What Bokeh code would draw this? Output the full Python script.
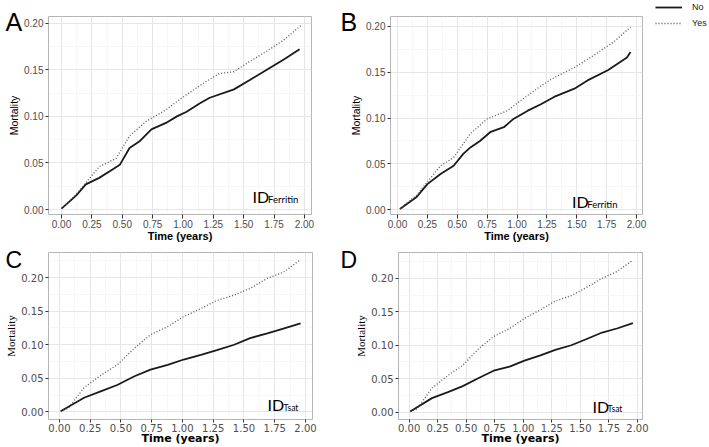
from bokeh.plotting import figure
from bokeh.layouts import column, row
from bokeh.models import (FixedTicker, NumeralTickFormatter, Label, Legend, LegendItem,
                          Range1d, GridBox)
from bokeh.embed import file_html
from bokeh.resources import INLINE

# ---------------- data ----------------
x_ticks = [0.0, 0.25, 0.5, 0.75, 1.0, 1.25, 1.5, 1.75, 2.0]
x_minor = [0.125, 0.375, 0.625, 0.875, 1.125, 1.375, 1.625, 1.875]
y_ticks_top = [0.0, 0.05, 0.10, 0.15, 0.20]
y_minor_top = [0.025, 0.075, 0.125, 0.175]
y_ticks_bot = [0.0, 0.05, 0.10, 0.15, 0.20]
y_minor_bot = [0.025, 0.075, 0.125, 0.175, 0.225]

legend_labels = ["No", "Yes"]
panel_letters = ["A", "B", "C", "D"]
subscripts = ["Ferritin", "Ferritin", "Tsat", "Tsat"]

a_t_no = [0.0, 0.12, 0.20, 0.31, 0.42, 0.48, 0.56, 0.64, 0.74, 0.86, 0.95, 1.03, 1.14, 1.22, 1.42, 1.55, 1.69, 1.83, 1.96]
a_no = [0.001, 0.015, 0.027, 0.034, 0.043, 0.048, 0.066, 0.073, 0.086, 0.093, 0.100, 0.105, 0.114, 0.120, 0.129, 0.139, 0.150, 0.161, 0.172]
a_t_yes = [0.0, 0.12, 0.31, 0.45, 0.56, 0.70, 0.86, 0.97, 1.19, 1.30, 1.42, 1.55, 1.69, 1.83, 1.97]
a_yes = [0.001, 0.016, 0.046, 0.055, 0.079, 0.095, 0.107, 0.118, 0.1375, 0.146, 0.148, 0.159, 0.170, 0.182, 0.1975]

b_t_no = [0.02, 0.16, 0.25, 0.36, 0.47, 0.55, 0.61, 0.69, 0.78, 0.89, 0.97, 1.09, 1.20, 1.31, 1.48, 1.59, 1.76, 1.92, 1.95]
b_no = [0.001, 0.014, 0.028, 0.039, 0.048, 0.061, 0.068, 0.075, 0.085, 0.090, 0.099, 0.108, 0.115, 0.123, 0.132, 0.141, 0.152, 0.166, 0.172]
b_t_yes = [0.02, 0.16, 0.36, 0.47, 0.61, 0.75, 0.92, 1.03, 1.20, 1.31, 1.48, 1.64, 1.81, 1.95]
b_yes = [0.001, 0.016, 0.048, 0.057, 0.083, 0.099, 0.108, 0.119, 0.135, 0.144, 0.155, 0.168, 0.183, 0.199]

c_t_no = [0.01, 0.20, 0.34, 0.47, 0.61, 0.74, 0.88, 1.01, 1.15, 1.28, 1.42, 1.55, 1.69, 1.82, 1.96]
c_no = [0.001, 0.021, 0.031, 0.040, 0.053, 0.063, 0.070, 0.078, 0.085, 0.092, 0.100, 0.110, 0.117, 0.124, 0.132]
c_t_yes = [0.01, 0.07, 0.20, 0.34, 0.47, 0.61, 0.74, 0.88, 1.01, 1.15, 1.28, 1.42, 1.55, 1.69, 1.82, 1.96]
c_yes = [0.001, 0.005, 0.036, 0.055, 0.070, 0.095, 0.115, 0.127, 0.142, 0.154, 0.166, 0.174, 0.184, 0.199, 0.208, 0.227]

d_t_no = [0.01, 0.20, 0.34, 0.47, 0.61, 0.74, 0.88, 1.01, 1.15, 1.28, 1.42, 1.55, 1.69, 1.82, 1.96]
d_no = [0.001, 0.021, 0.030, 0.039, 0.051, 0.062, 0.068, 0.077, 0.085, 0.093, 0.100, 0.109, 0.119, 0.125, 0.133]
d_t_yes = [0.01, 0.07, 0.20, 0.34, 0.47, 0.61, 0.74, 0.88, 1.01, 1.15, 1.28, 1.42, 1.55, 1.69, 1.82, 1.96]
d_yes = [0.001, 0.005, 0.036, 0.055, 0.070, 0.095, 0.113, 0.125, 0.140, 0.153, 0.166, 0.174, 0.186, 0.200, 0.210, 0.227]

W, H = 709, 447


# ---------------- styling helpers ----------------
def make_panel(width, height, borders, xr, yr, yt, ym, tick_font, title_font, ytitle_font, wide,
               xtick_out, xstand, xtitle_stand):
    left, right, top, bottom = borders
    p = figure(width=width, height=height, output_backend="svg", toolbar_location=None,
               x_range=Range1d(*xr), y_range=Range1d(*yr),
               min_border_left=left, min_border_right=right,
               min_border_top=top, min_border_bottom=bottom)
    p.background_fill_color = "white"
    p.border_fill_color = "white"
    p.outline_line_color = "#b5b5b5"
    p.outline_line_width = 1
    p.xaxis.ticker = FixedTicker(ticks=x_ticks, minor_ticks=x_minor)
    p.yaxis.ticker = FixedTicker(ticks=yt, minor_ticks=ym)
    for ax in (p.xaxis[0], p.yaxis[0]):
        ax.formatter = NumeralTickFormatter(format="0.00")
        ax.axis_line_color = None
        ax.major_tick_line_color = "#333333"
        ax.major_tick_out = 3
        ax.major_tick_in = 0
        ax.minor_tick_out = 0
        ax.minor_tick_in = 0
        ax.major_label_text_font = tick_font
        ax.major_label_text_font_size = "10px"
        ax.major_label_text_color = "#4d4d4d"
        ax.axis_label_text_color = "black"
    p.xaxis.major_tick_out = xtick_out
    p.xaxis.major_label_standoff = xstand
    p.yaxis.major_label_standoff = 2
    p.xaxis.axis_label = "Time (years)"
    p.xaxis.axis_label_text_font = title_font
    p.xaxis.axis_label_text_font_style = "bold"
    p.xaxis.axis_label_text_font_size = "11px"
    p.xaxis.axis_label_standoff = xtitle_stand
    p.yaxis.axis_label = "Mortality"
    p.yaxis.axis_label_text_font = ytitle_font
    p.yaxis.axis_label_text_font_style = "normal"
    p.yaxis.axis_label_text_font_size = "11px" if wide else "10.5px"
    p.yaxis.axis_label_standoff = 1
    p.xgrid.grid_line_color = "#e6e6e6"
    p.ygrid.grid_line_color = "#e6e6e6"
    p.xgrid.minor_grid_line_color = "#f1f1f1"
    p.ygrid.minor_grid_line_color = "#f1f1f1"
    p.xgrid.minor_grid_line_width = 0.6
    p.ygrid.minor_grid_line_width = 0.6
    return p


def add_curves(p, t_no, no, t_yes, yes):
    r_no = p.line(t_no, no, line_color="#1a1a1a", line_width=1.8)
    r_yes = p.line(t_yes, yes, line_color="#555555", line_width=1.3, line_dash="1 2")
    return r_no, r_yes


def add_id(p, sub, ix, iy, sx, sy, isize, ssize):
    p.add_layout(Label(x=ix, y=iy, text="ID", text_font="Lato", text_font_size=isize,
                       text_color="black", text_baseline="alphabetic", text_align="left"))
    p.add_layout(Label(x=sx, y=sy, text=sub, text_font="Lato", text_font_size=ssize,
                       text_color="black", text_baseline="alphabetic", text_align="left"))


# ---------------- panels ----------------
pa = make_panel(345, 247, (48, 34, 15, 33), (-0.107, 2.058), (-0.0053, 0.2072),
                y_ticks_top, y_minor_top, "Liberation Sans", "Liberation Sans", "Liberation Sans", False,
                4, 1, -1)
add_curves(pa, a_t_no, a_no, a_t_yes, a_yes)
add_id(pa, subscripts[0], 1.572, 0.0144, 1.70, 0.0111, "16px", "9.5px")

pb = make_panel(364, 247, (45, 67, 16, 33), (-0.0586, 2.05), (-0.0051, 0.2106),
                y_ticks_top, y_minor_top, "Liberation Sans", "Liberation Sans", "Liberation Sans", False,
                4, 1, -1)
add_curves(pb, b_t_no, b_no, b_t_yes, b_yes)
add_id(pb, subscripts[1], 1.46, 0.0086, 1.587, 0.0057, "16px", "9.5px")

pc = make_panel(345, 200, (48, 33, 5, 27), (-0.089, 2.057), (-0.0114, 0.2375),
                y_ticks_bot, y_minor_bot, "DejaVu Sans", "DejaVu Sans", "Liberation Sans Narrow", True,
                3, 1, -3)
add_curves(pc, c_t_no, c_no, c_t_yes, c_yes)
add_id(pc, subscripts[2], 1.691, 0.0108, 1.821, 0.0064, "16px", "8.5px")

pd_ = make_panel(364, 200, (53, 67, 5, 28), (-0.093, 2.044), (-0.0109, 0.2385),
                 y_ticks_bot, y_minor_bot, "DejaVu Sans", "DejaVu Sans", "Liberation Sans Narrow", True,
                 3, 1, -3)
add_curves(pd_, d_t_no, d_no, d_t_yes, d_yes)
add_id(pd_, subscripts[3], 1.606, 0.0089, 1.737, 0.0047, "16px", "8.5px")

panels = column(row(pa, pb), row(pc, pd_))

# ---------------- transparent overlay for panel letters and the shared legend ----------------
ov = figure(width=W, height=H, output_backend="svg", toolbar_location=None,
            x_range=Range1d(0, W), y_range=Range1d(H, 0),
            x_axis_type=None, y_axis_type=None, title=None,
            min_border_left=0, min_border_right=0, min_border_top=0, min_border_bottom=0)
ov.background_fill_color = None
ov.border_fill_color = None
ov.outline_line_color = None

letter_pos = [(5, 21, "25px"), (340, 21, "25px"), (5, 259, "23px"), (340, 259, "23px")]
for letter, (lx, ly, fs) in zip(panel_letters, letter_pos):
    ov.add_layout(Label(x=lx, y=ly, text=letter, text_font="Liberation Sans", text_font_size=fs,
                        text_color="black", text_baseline="alphabetic", text_align="left"))

# legend-only renderers (a single NaN point draws nothing in the overlay)
nan = float("nan")
ln_no = ov.line([nan], [nan], line_color="#1a1a1a", line_width=1.8)
ln_yes = ov.line([nan], [nan], line_color="#555555", line_width=1.3, line_dash="1 2")
leg = Legend(items=[LegendItem(label=legend_labels[0], renderers=[ln_no]),
                    LegendItem(label=legend_labels[1], renderers=[ln_yes])],
             location=(655, H - 30), orientation="vertical")
leg.padding = 0
leg.margin = 0
leg.spacing = 2
leg.glyph_width = 27
leg.glyph_height = 14
leg.label_height = 14
leg.label_standoff = 10
leg.label_text_font = "Liberation Sans"
leg.label_text_font_size = "9px"
leg.label_text_color = "#222222"
leg.border_line_alpha = 0
leg.background_fill_alpha = 0
ov.add_layout(leg)

grid = GridBox(children=[(panels, 0, 0), (ov, 0, 0)], spacing=0)

open("out.html", "w").write(file_html(grid, INLINE))
